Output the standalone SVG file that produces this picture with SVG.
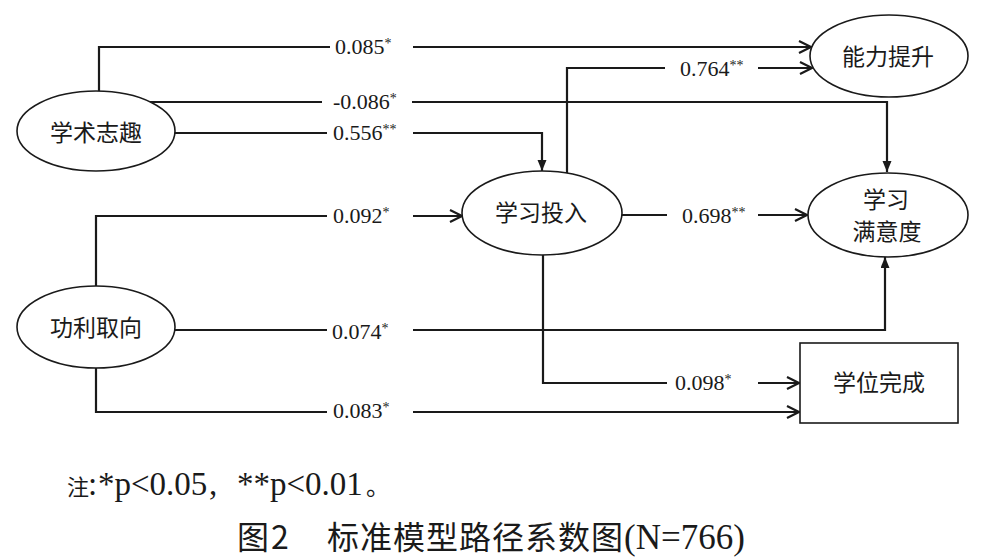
<svg xmlns="http://www.w3.org/2000/svg" width="994" height="560" viewBox="0 0 994 560">
<defs>
<style>
.node{fill:#fff;stroke:#1a1a1a;stroke-width:1.6}
.lbl{font-family:"Noto Sans CJK SC","Noto Sans",sans-serif;font-size:23px;fill:#1a1a1a;text-anchor:middle}
.num{font-family:"Liberation Serif","Times New Roman",serif;font-size:22px;fill:#1a1a1a}
.sup{font-size:14px;fill:#1a1a1a}
.edge{fill:none;stroke:#1a1a1a;stroke-width:2.2}
.note{font-family:"Liberation Serif","Noto Sans CJK SC",serif;font-size:33px;fill:#1a1a1a}
.cap{font-family:"Noto Sans CJK SC","Noto Sans",sans-serif;font-size:32px;fill:#1a1a1a}
</style>
<marker id="open" markerUnits="userSpaceOnUse" markerWidth="16" markerHeight="16" refX="13" refY="7" orient="auto">
<path d="M1,1 L13,7 L1,13" fill="none" stroke="#1a1a1a" stroke-width="2.2"/>
</marker>
<marker id="fill" markerUnits="userSpaceOnUse" markerWidth="12" markerHeight="10" refX="11" refY="4.5" orient="auto">
<path d="M0,0 L11,4.5 L0,9 z" fill="#1a1a1a"/>
</marker>
</defs>
<rect width="994" height="560" fill="#fff"/>

<g id="connectors">
<path class="edge" d="M99,91 V47 H330"/>
<path class="edge" d="M413,47 H811" marker-end="url(#open)"/>
<path class="edge" d="M150,102 H322"/>
<path class="edge" d="M412,102 H887 V172" marker-end="url(#fill)"/>
<path class="edge" d="M175,133 H327"/>
<path class="edge" d="M413,133 H542 V171" marker-end="url(#fill)"/>
<path class="edge" d="M96,286 V216 H327"/>
<path class="edge" d="M413,216 H462" marker-end="url(#open)"/>
<path class="edge" d="M175,330 H327"/>
<path class="edge" d="M413,330 H885 V257" marker-end="url(#fill)"/>
<path class="edge" d="M96,368 V412 H327"/>
<path class="edge" d="M413,412 H799" marker-end="url(#open)"/>
<path class="edge" d="M567,173 V68 H665"/>
<path class="edge" d="M758,68 H812" marker-end="url(#open)"/>
<path class="edge" d="M622,215 H667"/>
<path class="edge" d="M758,215 H807" marker-end="url(#open)"/>
<path class="edge" d="M543,255 V383 H667"/>
<path class="edge" d="M758,383 H799" marker-end="url(#open)"/>

<text class="num" x="335" y="54">0.085<tspan class="sup" dy="-6">*</tspan></text>
<text class="num" x="333" y="109">-0.086<tspan class="sup" dy="-6">*</tspan></text>
<text class="num" x="333" y="140">0.556<tspan class="sup" dy="-6">**</tspan></text>
<text class="num" x="333" y="223">0.092<tspan class="sup" dy="-6">*</tspan></text>
<text class="num" x="332" y="339">0.074<tspan class="sup" dy="-6">*</tspan></text>
<text class="num" x="333" y="418">0.083<tspan class="sup" dy="-6">*</tspan></text>
<text class="num" x="680" y="76">0.764<tspan class="sup" dy="-6">**</tspan></text>
<text class="num" x="682" y="223">0.698<tspan class="sup" dy="-6">**</tspan></text>
<text class="num" x="675" y="390">0.098<tspan class="sup" dy="-6">*</tspan></text>
</g>

<g id="node-xueshuzhiqu">
<ellipse class="node" cx="96" cy="131" rx="79" ry="40"/>
<text class="lbl" x="96" y="141">学术志趣</text>
</g>
<g id="node-gonglequxiang">
<ellipse class="node" cx="96" cy="327" rx="79" ry="41"/>
<text class="lbl" x="96" y="336">功利取向</text>
</g>
<g id="node-xuexitouru">
<ellipse class="node" cx="542" cy="213" rx="80" ry="42"/>
<text class="lbl" x="541" y="221">学习投入</text>
</g>
<g id="node-nenglitisheng">
<ellipse class="node" cx="889" cy="56" rx="79" ry="41"/>
<text class="lbl" x="888" y="65">能力提升</text>
</g>
<g id="node-xueximanyidu">
<ellipse class="node" cx="888" cy="215" rx="80" ry="42"/>
<text class="lbl" x="886" y="208">学习</text>
<text class="lbl" x="887" y="240">满意度</text>
</g>
<g id="node-xueweiwancheng">
<rect class="node" x="800" y="343" width="158" height="80"/>
<text class="lbl" x="879" y="391">学位完成</text>
</g>

<g id="footnote">
<text class="note" y="495"><tspan x="67" style="font-family:'Noto Sans CJK SC',sans-serif;font-size:22px">注</tspan><tspan x="88">:</tspan><tspan x="98">*p&lt;0.05</tspan><tspan x="209">,</tspan><tspan x="237">**p&lt;0.01</tspan><tspan x="366" style="font-family:'Noto Sans CJK SC',sans-serif;font-size:24px">。</tspan></text>
<text class="cap" y="549"><tspan x="237">图</tspan><tspan x="271">2</tspan><tspan x="327" letter-spacing="1">标准模型路径系数图</tspan><tspan x="624" style="font-family:'Liberation Serif',serif;font-size:35px">(N=766)</tspan></text>
</g>
</svg>
